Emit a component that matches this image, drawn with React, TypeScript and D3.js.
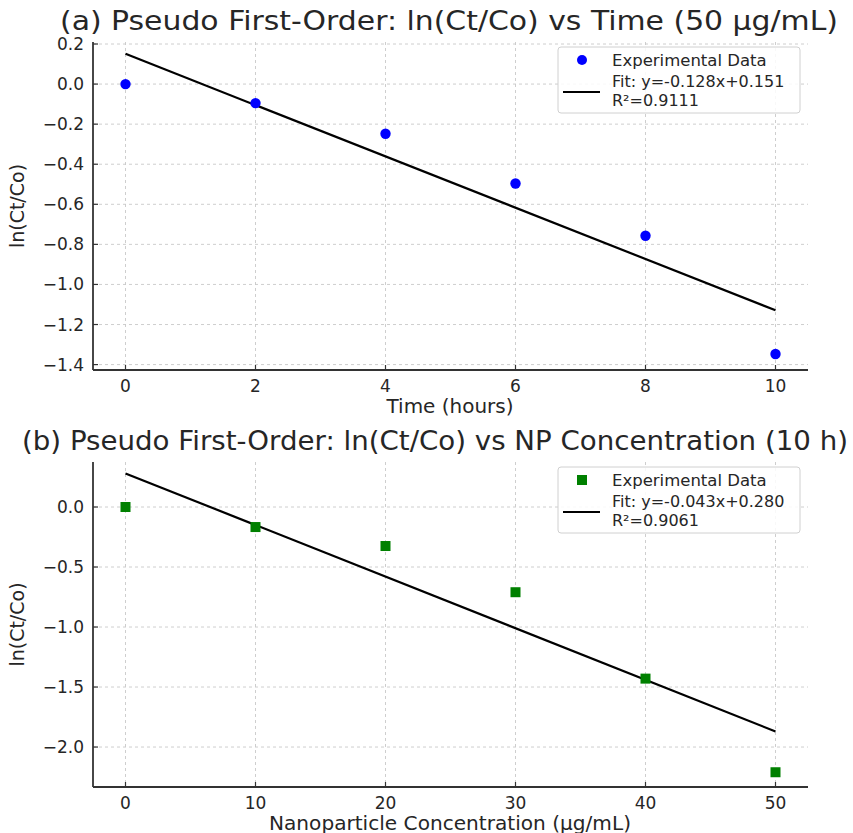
import React from "react";
import * as d3 from "d3";

const timeHours = [0, 2, 4, 6, 8, 10];
const lnTime = [0.0, -0.095, -0.248, -0.496, -0.757, -1.347];
const fitTime = { slope: -0.128, intercept: 0.151 };
const timeTicksX = [0, 2, 4, 6, 8, 10];
const timeTicksY = [0.2, 0.0, -0.2, -0.4, -0.6, -0.8, -1.0, -1.2, -1.4];

const concNP = [0, 10, 20, 30, 40, 50];
const lnConc = [0.0, -0.167, -0.325, -0.71, -1.43, -2.21];
const fitConc = { slope: -0.043, intercept: 0.28 };
const concTicksX = [0, 10, 20, 30, 40, 50];
const concTicksY = [0.0, -0.5, -1.0, -1.5, -2.0];

const titleA = "(a) Pseudo First-Order: ln(Ct/Co) vs Time (50 µg/mL)";
const titleB = "(b) Pseudo First-Order: ln(Ct/Co) vs NP Concentration (10 h)";
const xLabelA = "Time (hours)";
const xLabelB = "Nanoparticle Concentration (µg/mL)";
const yLabel = "ln(Ct/Co)";
const legendA = ["Experimental Data", "Fit: y=-0.128x+0.151", "R²=0.9111"];
const legendB = ["Experimental Data", "Fit: y=-0.043x+0.280", "R²=0.9061"];

const FONT = "DejaVu Sans, Verdana, sans-serif";
const TXT = "#262626";

function fmtY(v: number, dec: number) {
  const s = Math.abs(v).toFixed(dec);
  return v < -1e-9 ? "\u2212" + s : s;
}

type PanelProps = {
  top: number;
  bottom: number;
  xDomain: [number, number];
  yDomain: [number, number];
  xs: number[];
  ys: number[];
  fit: { slope: number; intercept: number };
  xTicks: number[];
  yTicks: number[];
  yDec: number;
  title: string;
  titleLen: number;
  titleX: number;
  xLabel: string;
  xLabelLen: number;
  legend: string[];
  marker: "circle" | "square";
  color: string;
};

function Panel(p: PanelProps) {
  const left = 93;
  const right = 808;
  const x = d3.scaleLinear().domain(p.xDomain).range([left, right]);
  const y = d3.scaleLinear().domain(p.yDomain).range([p.bottom, p.top]);
  const x0 = d3.min(p.xs)!;
  const x1 = d3.max(p.xs)!;
  const line = d3
    .line<number>()
    .x((d) => x(d))
    .y((d) => y(p.fit.slope * d + p.fit.intercept));
  const lgX = 558;
  const lgY = p.top + 5;
  return (
    <g>
      {/* grid */}
      {p.xTicks.map((t) => (
        <line key={"gx" + t} x1={x(t)} x2={x(t)} y1={p.top} y2={p.bottom}
          stroke="#c8c8c8" strokeWidth={0.9} strokeDasharray="3,3" />
      ))}
      {p.yTicks.map((t) => (
        <line key={"gy" + t} x1={left} x2={right} y1={y(t)} y2={y(t)}
          stroke="#c8c8c8" strokeWidth={0.9} strokeDasharray="3,3" />
      ))}
      {/* fit line */}
      <path d={line([x0, x1]) || ""} fill="none" stroke="#000" strokeWidth={2.2} />
      {/* points */}
      {p.xs.map((xv, i) =>
        p.marker === "circle" ? (
          <circle key={i} cx={x(xv)} cy={y(p.ys[i])} r={5.2} fill={p.color} />
        ) : (
          <rect key={i} x={x(xv) - 5} y={y(p.ys[i]) - 5} width={10} height={10} fill={p.color} />
        )
      )}
      {/* spines */}
      <line x1={left} x2={left} y1={p.top} y2={p.bottom} stroke="#333" strokeWidth={1.8} />
      <line x1={left} x2={right} y1={p.bottom} y2={p.bottom} stroke="#333" strokeWidth={1.8} />
      {/* ticks */}
      {p.xTicks.map((t) => (
        <g key={"tx" + t}>
          <line x1={x(t)} x2={x(t)} y1={p.bottom} y2={p.bottom - 5} stroke="#333" strokeWidth={1.2} />
          <text x={x(t)} y={p.bottom + 22} textAnchor="middle" fontSize={17} fill={TXT} fontFamily={FONT}>
            {String(t)}
          </text>
        </g>
      ))}
      {p.yTicks.map((t) => (
        <g key={"ty" + t}>
          <line x1={left} x2={left + 5} y1={y(t)} y2={y(t)} stroke="#333" strokeWidth={1.2} />
          <text x={left - 9} y={y(t) + 6} textAnchor="end" fontSize={17} fill={TXT} fontFamily={FONT}>
            {fmtY(t, p.yDec)}
          </text>
        </g>
      ))}
      {/* labels */}
      <text x={p.titleX} y={p.top - 12} textAnchor="middle" fontSize={26} fill={TXT} fontFamily={FONT}
        textLength={p.titleLen} lengthAdjust="spacingAndGlyphs">
        {p.title}
      </text>
      <text x={450} y={p.bottom + 43} textAnchor="middle" fontSize={19} fill={TXT} fontFamily={FONT}
        textLength={p.xLabelLen} lengthAdjust="spacingAndGlyphs">
        {p.xLabel}
      </text>
      <text transform={`translate(24,${(p.top + p.bottom) / 2}) rotate(-90)`} textAnchor="middle"
        fontSize={19} fill={TXT} fontFamily={FONT}>
        {yLabel}
      </text>
      {/* legend */}
      <rect x={lgX} y={lgY} width={242} height={66} rx={3} fill="#fff" fillOpacity={0.85}
        stroke="#d0d0d0" strokeWidth={1} />
      {p.marker === "circle" ? (
        <circle cx={lgX + 24} cy={lgY + 13} r={5} fill={p.color} />
      ) : (
        <rect x={lgX + 19} y={lgY + 8} width={10} height={10} fill={p.color} />
      )}
      <line x1={lgX + 5} x2={lgX + 42} y1={lgY + 45} y2={lgY + 45} stroke="#000" strokeWidth={2.2} />
      <text x={lgX + 54} y={lgY + 19} fontSize={16.5} fill={TXT} fontFamily={FONT}>{p.legend[0]}</text>
      <text x={lgX + 54} y={lgY + 40} fontSize={16} fill={TXT} fontFamily={FONT}>{p.legend[1]}</text>
      <text x={lgX + 54} y={lgY + 59} fontSize={16} fill={TXT} fontFamily={FONT}>{p.legend[2]}</text>
    </g>
  );
}

export default function App() {
  return (
    <svg width={853} height={833} style={{ display: "block", position: "absolute", left: 0, top: 0 }}>
      <rect width={853} height={833} fill="#fff" />
      <Panel top={42} bottom={370} xDomain={[-0.5, 10.5]} yDomain={[-1.427, 0.21]}
        xs={timeHours} ys={lnTime} fit={fitTime} xTicks={timeTicksX} yTicks={timeTicksY} yDec={1}
        title={titleA} titleLen={778} titleX={449} xLabel={xLabelA} xLabelLen={127}
        legend={legendA} marker="circle" color="#0000ff" />
      <Panel top={462} bottom={787} xDomain={[-2.5, 52.5]} yDomain={[-2.333, 0.375]}
        xs={concNP} ys={lnConc} fit={fitConc} xTicks={concTicksX} yTicks={concTicksY} yDec={1}
        title={titleB} titleLen={826} titleX={435} xLabel={xLabelB} xLabelLen={362}
        legend={legendB} marker="square" color="#008000" />
    </svg>
  );
}
